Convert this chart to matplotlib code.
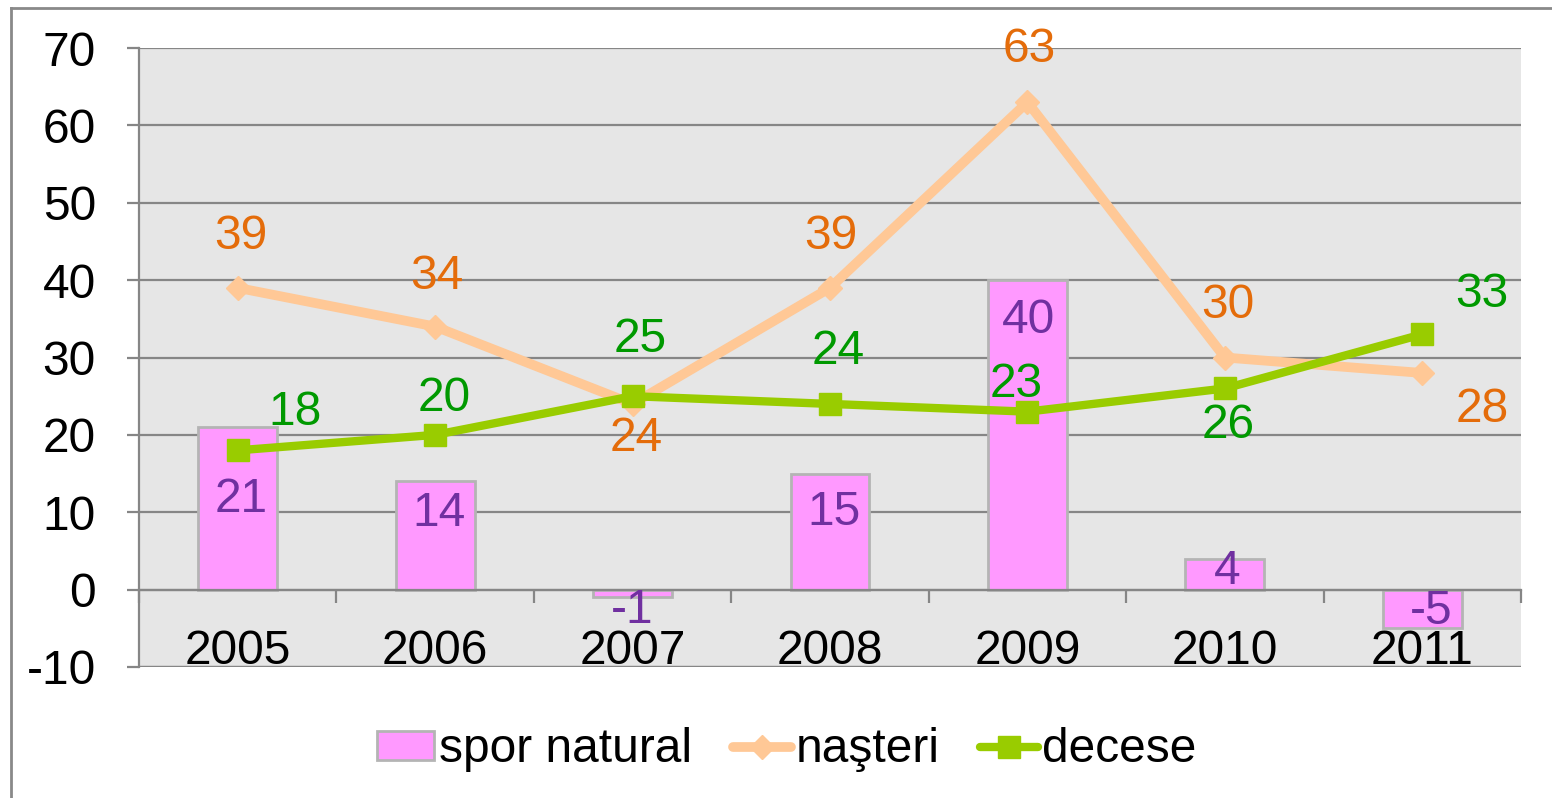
import matplotlib.pyplot as plt
from matplotlib.lines import Line2D

plt.rcParams['font.family'] = ['Liberation Sans', 'DejaVu Sans']
plt.rcParams['axes.unicode_minus'] = False

# date
ani = ['2005', '2006', '2007', '2008', '2009', '2010', '2011']
spor_natural = [21, 14, -1, 15, 40, 4, -5]
nasteri = [39, 34, 24, 39, 63, 30, 28]
decese = [18, 20, 25, 24, 23, 26, 33]

# pozitia etichetelor (pixeli fata de punct)
off_spor = [(3, -72), (4, -32), (0, -13), (4, -39), (1, -40), (2, -13), (9, 17)]
off_nast = [(3, 51), (2, 50), (4, -35), (1, 51), (2, 53), (3, 52), (60, -37)]
off_dec = [(57, 38), (9, 36), (8, 57), (8, 52), (-11, 27), (3, -37), (60, 40)]

fig = plt.figure(figsize=(15.52, 7.98), dpi=100)
ax = fig.add_axes([139 / 1552, 1 - 667 / 798, (1521 - 139) / 1552, (667 - 48) / 798])
ax.set_facecolor('#E6E6E6')

x = list(range(len(ani)))
bars = ax.bar(x, spor_natural, width=0.4, color='#FF99FF', edgecolor='#B4B4B4',
              linewidth=2, zorder=2, label='spor natural')
l1, = ax.plot(x, nasteri, color='#FFC896', linewidth=7, marker='D', markersize=12,
              solid_joinstyle='round', solid_capstyle='round', zorder=3, label='naşteri')
l2, = ax.plot(x, decese, color='#99CC00', linewidth=6, marker='s', markersize=16,
              solid_joinstyle='round', solid_capstyle='round', zorder=4, label='decese')

fs = 34.5
for i in x:
    ax.annotate(str(spor_natural[i]), (i, spor_natural[i]), xytext=off_spor[i],
                textcoords='offset pixels', ha='center', va='center',
                fontsize=fs, color='#7030A0', zorder=6)
    ax.annotate(str(nasteri[i]), (i, nasteri[i]), xytext=off_nast[i],
                textcoords='offset pixels', ha='center', va='center',
                fontsize=fs, color='#E46C0A', zorder=6)
    ax.annotate(str(decese[i]), (i, decese[i]), xytext=off_dec[i],
                textcoords='offset pixels', ha='center', va='center',
                fontsize=fs, color='#009900', zorder=6)

ax.set_xlim(-0.5, len(ani) - 0.5)
ax.set_ylim(-10, 70)
ax.set_yticks(range(-10, 71, 10))
ax.yaxis.grid(True, color='#868686', linewidth=1.6, zorder=1)
ax.set_axisbelow(True)

# axa x la zero
for s in ['top', 'right']:
    ax.spines[s].set_visible(False)
ax.spines['bottom'].set_position(('data', 0))
ax.spines['bottom'].set_color('#868686')
ax.spines['bottom'].set_linewidth(1.6)
ax.spines['left'].set_color('#868686')
ax.spines['left'].set_linewidth(1.6)
ax.axhline(-10, color='#868686', linewidth=1.6, zorder=1)

ax.set_xticks(x)
ax.set_xticklabels(ani)
ax.set_xticks([i - 0.5 for i in range(len(ani) + 1)], minor=True)
ax.tick_params(axis='x', which='major', length=0, pad=28, labelsize=fs)
ax.tick_params(axis='x', which='minor', length=9, width=1.6, color='#868686', direction='out')
ax.tick_params(axis='y', length=9, width=1.6, color='#868686', pad=22, labelsize=fs)

ax.legend([bars, l1, l2], ['spor natural', 'naşteri', 'decese'],
          loc='center', bbox_to_anchor=(0.507, 1 - 750 / 798), bbox_transform=fig.transFigure,
          ncol=3, frameon=False, fontsize=fs, handlelength=1.2, handletextpad=0.1,
          columnspacing=0.85, handleheight=0.55)

# chenarul graficului
fig.add_artist(Line2D([11 / 1552, 11 / 1552], [0, 1 - 8 / 798], color='#898989',
                      linewidth=2, transform=fig.transFigure))
fig.add_artist(Line2D([11 / 1552, 1], [1 - 8 / 798, 1 - 8 / 798], color='#898989',
                      linewidth=2, transform=fig.transFigure))

fig.savefig('out.png', dpi=100)
